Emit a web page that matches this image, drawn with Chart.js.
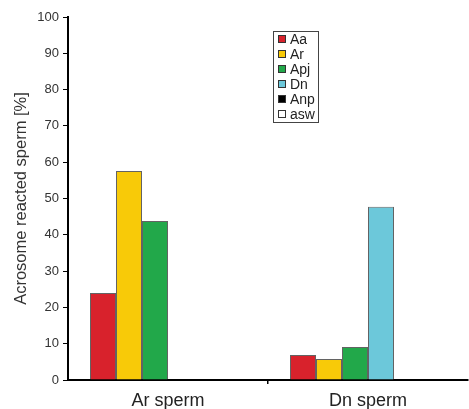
<!DOCTYPE html>
<html>
<head>
<meta charset="utf-8">
<script src="https://cdn.jsdelivr.net/npm/chart.js@4"></script>
<style>
  html, body { margin: 0; padding: 0; background: #fff; }
  #wrap { position: relative; width: 469px; height: 409px; }
  #legend {
    position: absolute; left: 273px; top: 31px; width: 46px; height: 92px;
    border: 1px solid #444; box-sizing: border-box; padding: 0 0 0 4px;
    font-family: "Liberation Sans", Arial, sans-serif; font-size: 14px; color: #222;
  }
  .item { height: 15px; line-height: 15px; white-space: nowrap; }
  .sw { display: inline-block; width: 6px; height: 6px; border: 1px solid #333; margin-right: 4px; vertical-align: 1px; }
</style>
</head>
<body>
<div id="wrap">
  <canvas id="chart" width="469" height="409"></canvas>
  <div id="legend"></div>
</div>
<script>
const categories = ["Ar sperm", "Dn sperm"];
const seriesNames = ["Aa", "Ar", "Apj", "Dn", "Anp", "asw"];
const aaValues = [24, 6.9];
const arValues = [57.6, 5.8];
const apjValues = [43.8, 9.1];
const dnValues = [null, 47.7];
const anpValues = [null, null];
const aswValues = [null, null];
const colors = ["#d8222c", "#f8ca08", "#22a84a", "#6cc8da", "#000000", "#ffffff"];

const seriesValues = [aaValues, arValues, apjValues, dnValues, anpValues, aswValues];

const font = "'Liberation Sans', Arial, sans-serif";

const ctx = document.getElementById("chart").getContext("2d");
const chart = new Chart(ctx, {
  type: "bar",
  data: {
    labels: categories,
    datasets: seriesNames.map((name, i) => ({
      label: name,
      data: seriesValues[i],
      backgroundColor: colors[i],
      borderColor: "rgba(60,60,60,0.8)",
      borderWidth: 1,
      categoryPercentage: 0.78,
      barPercentage: 1
    }))
  },
  options: {
    responsive: false,
    animation: false,
    layout: { padding: { top: 17, right: 1, left: 0, bottom: 0 } },
    plugins: { legend: { display: false }, tooltip: { enabled: false } },
    scales: {
      x: {
        afterFit: s => { s.height = 29; },
        border: { color: "#000", width: 2 },
        grid: {
          drawOnChartArea: false,
          tickLength: 4,
          color: c => c.index === 1 ? "#000" : "transparent",
          lineWidth: 1.5
        },
        ticks: { color: "#222", font: { family: font, size: 18 }, padding: 6 }
      },
      y: {
        min: 0,
        max: 100,
        afterFit: s => { s.width = 68; },
        border: { color: "#000", width: 2 },
        grid: { drawOnChartArea: false, tickLength: 5, color: "#000", lineWidth: 1 },
        ticks: { stepSize: 10, color: "#333", font: { family: font, size: 13 }, padding: 4 },
        title: {
          display: true,
          text: "Acrosome reacted sperm [%]",
          color: "#333",
          font: { family: font, size: 16.5 },
          padding: { top: 12, bottom: 0 }
        }
      }
    }
  }
});

// legend box drawn as html, inside the plot area
const legendEl = document.getElementById("legend");
seriesNames.forEach((name, i) => {
  const row = document.createElement("div");
  row.className = "item";
  const sw = document.createElement("span");
  sw.className = "sw";
  sw.style.background = colors[i];
  row.appendChild(sw);
  row.appendChild(document.createTextNode(name));
  legendEl.appendChild(row);
});
</script>
</body>
</html>
